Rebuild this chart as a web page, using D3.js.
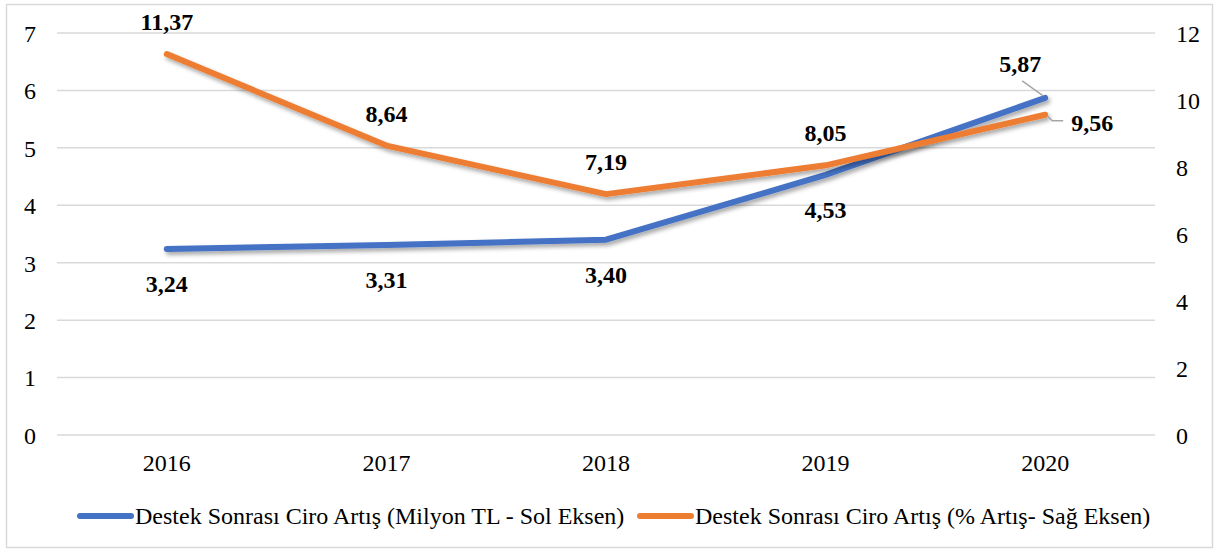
<!DOCTYPE html>
<html>
<head>
  <meta charset="utf-8">
  <title>Destek Sonrası Ciro Artış</title>
  <script src="https://d3js.org/d3.v7.min.js"></script>
  <style>
    body { margin: 0; background: white; }
  </style>
</head>
<body>
  <script>
    var years = ['2016', '2017', '2018', '2019', '2020'];
    var ciroMilyon = [3.24, 3.31, 3.40, 4.53, 5.87];
    var ciroYuzde = [11.37, 8.64, 7.19, 8.05, 9.56];
    var leftTicks = [0, 1, 2, 3, 4, 5, 6, 7];
    var rightTicks = [0, 2, 4, 6, 8, 10, 12];
    var seriesNames = ['Destek Sonrası Ciro Artış (Milyon TL - Sol Eksen)',
                       'Destek Sonrası Ciro Artış (% Artış- Sağ Eksen)'];
    var colors = ['#4472C4', '#ED7D31'];

    var width = 1217, height = 551;
    var plot = { left: 57, right: 1155, top: 33, bottom: 435 };
    var serif = "'Liberation Serif'";

    var svg = d3.select('body').append('svg')
      .attr('width', width)
      .attr('height', height);

    var f = svg.append('defs').append('filter').attr('id', 'shadow')
      .attr('x', '-5%').attr('y', '-20%').attr('width', '110%').attr('height', '140%');
    f.append('feDropShadow')
      .attr('dx', 2).attr('dy', 3).attr('stdDeviation', 2)
      .attr('flood-color', '#000').attr('flood-opacity', 0.35);

    svg.append('rect')
      .attr('x', 6.5).attr('y', 4.5)
      .attr('width', 1206).attr('height', 543)
      .attr('fill', 'white')
      .attr('stroke', '#d9d9d9')
      .attr('stroke-width', 1.5);

    var x = d3.scaleBand().domain(years).range([plot.left, plot.right]);
    var yL = d3.scaleLinear().domain([0, 7]).range([plot.bottom, plot.top]);
    var yR = d3.scaleLinear().domain([0, 12]).range([plot.bottom, plot.top]);

    // gridlines
    svg.append('g').selectAll('line').data(leftTicks).enter().append('line')
      .attr('x1', plot.left).attr('x2', plot.right)
      .attr('y1', function(d) { return yL(d); })
      .attr('y2', function(d) { return yL(d); })
      .attr('stroke', '#d9d9d9').attr('stroke-width', 1.5);

    var leftAxis = svg.append('g')
      .attr('transform', 'translate(' + plot.left + ',0)')
      .call(d3.axisLeft(yL).tickValues(leftTicks).tickFormat(d3.format('d')).tickSize(0).tickPadding(21));
    leftAxis.select('.domain').remove();

    var rightAxis = svg.append('g')
      .attr('transform', 'translate(' + plot.right + ',0)')
      .call(d3.axisRight(yR).tickValues(rightTicks).tickFormat(d3.format('d')).tickSize(0).tickPadding(21));
    rightAxis.select('.domain').remove();

    var bottomAxis = svg.append('g')
      .attr('transform', 'translate(0,' + plot.bottom + ')')
      .call(d3.axisBottom(x).tickSize(0).tickPadding(19));
    bottomAxis.select('.domain').remove();

    svg.selectAll('.tick text')
      .style('font-family', serif)
      .style('font-size', '24px')
      .attr('fill', '#000');
    leftAxis.selectAll('text').attr('dy', '0.35em');
    rightAxis.selectAll('text').attr('dy', '0.35em');

    function cx(d, i) { return x(years[i]) + x.bandwidth() / 2; }

    var lineL = d3.line()
      .x(function(d, i) { return cx(d, i); })
      .y(function(d) { return yL(d); });
    var lineR = d3.line()
      .x(function(d, i) { return cx(d, i); })
      .y(function(d) { return yR(d); });

    svg.append('path').datum(ciroMilyon)
      .attr('d', lineL)
      .attr('fill', 'none')
      .attr('stroke', colors[0])
      .attr('stroke-width', 6)
      .attr('stroke-linecap', 'round')
      .attr('stroke-linejoin', 'round')
      .attr('filter', 'url(#shadow)');

    svg.append('path').datum(ciroYuzde)
      .attr('d', lineR)
      .attr('fill', 'none')
      .attr('stroke', colors[1])
      .attr('stroke-width', 6)
      .attr('stroke-linecap', 'round')
      .attr('stroke-linejoin', 'round')
      .attr('filter', 'url(#shadow)');

    function fmt(v) { return v.toFixed(2).replace('.', ','); }

    // leader lines for 2020
    var last = years.length - 1;
    svg.append('polyline')
      .attr('points', [[cx(0, last) - 23, yL(ciroMilyon[last]) - 17], [cx(0, last) - 2, yL(ciroMilyon[last]) - 2]].join(' '))
      .attr('fill', 'none').attr('stroke', '#a6a6a6').attr('stroke-width', 1.5);
    svg.append('polyline')
      .attr('points', [[cx(0, last) + 2, yR(ciroYuzde[last]) + 1], [cx(0, last) + 7, yR(ciroYuzde[last]) + 6], [cx(0, last) + 18, yR(ciroYuzde[last]) + 6]].join(' '))
      .attr('fill', 'none').attr('stroke', '#a6a6a6').attr('stroke-width', 1.5);

    // data labels
    var labels = svg.append('g')
      .style('font-family', serif)
      .style('font-size', '24px')
      .style('font-weight', 'bold')
      .attr('text-anchor', 'middle');

    labels.selectAll('.lblL').data(ciroMilyon).enter().append('text')
      .attr('class', 'lblL')
      .attr('x', function(d, i) { return i === last ? cx(d, i) - 25 : cx(d, i); })
      .attr('y', function(d, i) { return i === last ? yL(d) - 26 : yL(d) + 43; })
      .text(fmt);

    labels.selectAll('.lblR').data(ciroYuzde).enter().append('text')
      .attr('class', 'lblR')
      .attr('x', function(d, i) { return i === last ? cx(d, i) + 47 : cx(d, i); })
      .attr('y', function(d, i) { return i === last ? yR(d) + 16 : yR(d) - 24; })
      .text(fmt);

    // legend
    var legend = svg.append('g')
      .style('font-family', serif)
      .style('font-size', '24px');
    var legendX = [77, 637];
    seriesNames.forEach(function(name, i) {
      var g = legend.append('g').attr('transform', 'translate(' + legendX[i] + ',516)');
      g.append('line').attr('x1', 3).attr('x2', 54).attr('y1', 0).attr('y2', 0)
        .attr('stroke', colors[i]).attr('stroke-width', 6).attr('stroke-linecap', 'round');
      g.append('text').attr('x', 58).attr('y', 0).attr('dy', '0.35em').text(name);
    });
  </script>
</body>
</html>
